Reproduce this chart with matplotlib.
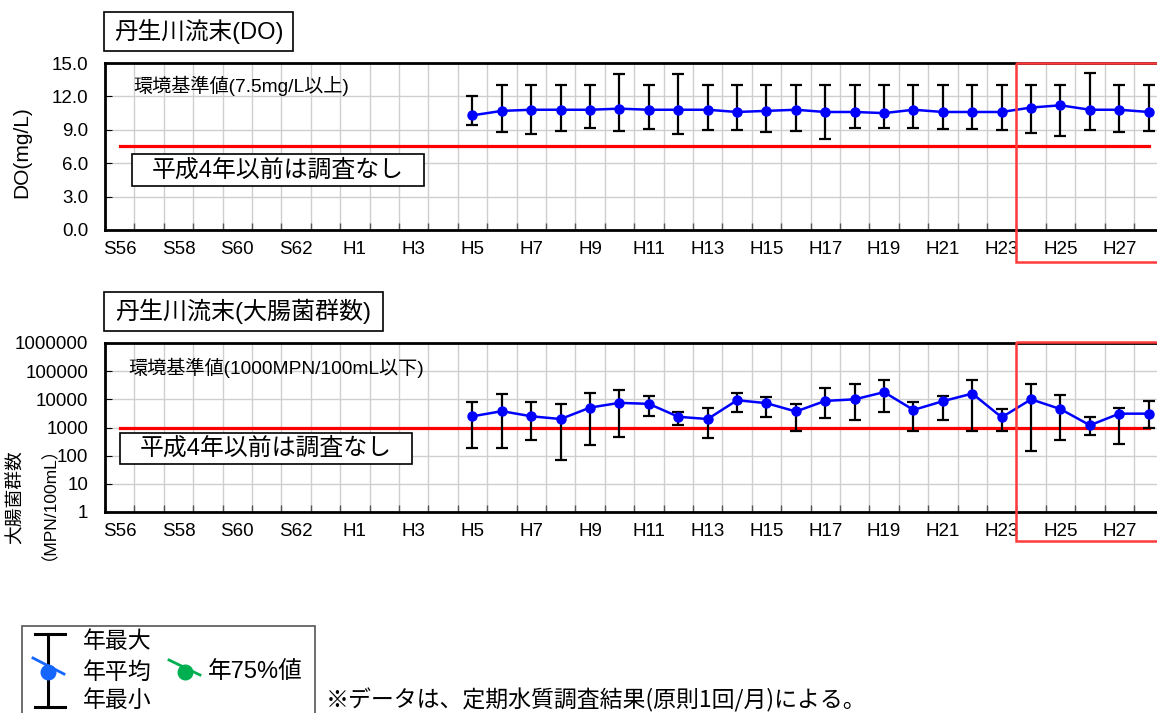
import matplotlib
matplotlib.use("Agg")
import matplotlib.pyplot as plt
from matplotlib.patches import Rectangle
from matplotlib.lines import Line2D
import numpy as np

plt.rcParams['font.family'] = ['Liberation Sans', 'Noto Sans CJK JP']

# ---------------- data ----------------
categories = ['S56', 'S57', 'S58', 'S59', 'S60', 'S61', 'S62', 'S63',
              'H1', 'H2', 'H3', 'H4', 'H5', 'H6', 'H7', 'H8', 'H9', 'H10',
              'H11', 'H12', 'H13', 'H14', 'H15', 'H16', 'H17', 'H18', 'H19',
              'H20', 'H21', 'H22', 'H23', 'H24', 'H25', 'H26', 'H27', 'H28']
data_years = ['H5', 'H6', 'H7', 'H8', 'H9', 'H10', 'H11', 'H12', 'H13', 'H14',
              'H15', 'H16', 'H17', 'H18', 'H19', 'H20', 'H21', 'H22', 'H23',
              'H24', 'H25', 'H26', 'H27', 'H28']

do_mean = [10.3, 10.7, 10.8, 10.8, 10.8, 10.9, 10.8, 10.8, 10.8, 10.6,
           10.7, 10.8, 10.6, 10.6, 10.5, 10.8, 10.6, 10.6, 10.6,
           11.0, 11.2, 10.8, 10.8, 10.6]
do_max = [12.0, 13.0, 13.0, 13.0, 13.0, 14.0, 13.0, 14.0, 13.0, 13.0,
          13.0, 13.0, 13.0, 13.0, 13.0, 13.0, 13.0, 13.0, 13.0,
          13.0, 13.0, 14.1, 13.0, 13.0]
do_min = [9.4, 8.8, 8.6, 8.9, 9.2, 8.9, 9.1, 8.6, 9.0, 9.0,
          8.8, 8.9, 8.2, 9.2, 9.2, 9.2, 9.1, 9.1, 9.0,
          8.7, 8.4, 9.0, 8.8, 8.9]

coli_mean = [2500, 3800, 2500, 2000, 5100, 7500, 6900, 2400, 2000, 9300,
             7300, 3700, 8800, 10000, 18000, 4200, 8600, 16000, 2300,
             10000, 4500, 1200, 3100, 3100]
coli_max = [8000, 15000, 8000, 7000, 17000, 22000, 13000, 3500, 5000, 17000,
            12000, 7000, 26000, 35000, 50000, 8000, 13000, 50000, 4700,
            35000, 14000, 2300, 5000, 8600]
coli_min = [180, 180, 350, 68, 240, 450, 2500, 1200, 410, 3600,
            2300, 780, 2200, 1800, 3500, 780, 1800, 780, 780,
            150, 350, 530, 260, 1000]

do_standard = 7.5
coli_standard = 1000

do_ticks = [0, 3, 6, 9, 12, 15]
coli_ticks = [1, 10, 100, 1000, 10000, 100000, 1000000]

# ---------------- figure ----------------
W, H = 1157, 713
fig = plt.figure(figsize=(W / 100, H / 100), dpi=100)

ncat = len(categories)
cat_w = 29.4
left_px = 105
ax_w = ncat * cat_w / W


def make_axes(top_px, bot_px):
    return fig.add_axes([left_px / W, 1 - bot_px / H, ax_w, (bot_px - top_px) / H])


ax1 = make_axes(63, 230)
ax2 = make_axes(343, 512)

xd = [categories.index(y) for y in data_years]


def style_axes(ax):
    ax.set_xlim(-0.5, ncat - 0.5)
    ax.set_xticks(range(0, ncat, 2))
    ax.set_xticklabels(categories[::2])
    ax.set_xticks(np.arange(-0.5, ncat, 1), minor=True)
    ax.grid(True, which='minor', axis='x', color='#cfcfcf', lw=1)
    ax.grid(True, which='major', axis='y', color='#cfcfcf', lw=1)
    ax.tick_params(axis='x', which='major', length=0, pad=8, labelsize=13.5)
    ax.tick_params(axis='x', which='minor', direction='in', length=5, width=1, color='#555555')
    ax.tick_params(axis='y', which='major', direction='in', length=5, pad=12, labelsize=13.5)
    ax.tick_params(axis='y', which='minor', length=0)
    for s in ax.spines.values():
        s.set_linewidth(2)
        s.set_color('black')
    ax.set_axisbelow(True)


# --- DO chart ---
style_axes(ax1)
ax1.set_ylim(0, 15)
ax1.set_yticks(do_ticks)
ax1.set_yticklabels(['%.1f' % v for v in do_ticks])
ax1.plot([0, ncat - 1], [do_standard, do_standard], color='#ff0000', lw=2.3, zorder=3)
m = np.array(do_mean)
ax1.errorbar(xd, m, yerr=[m - np.array(do_min), np.array(do_max) - m], fmt='none',
             ecolor='black', elinewidth=1.6, capsize=4.5, capthick=1.6, zorder=4)
ax1.plot(xd, do_mean, color='#0000ff', lw=1.8, marker='o', ms=6.5, zorder=5)

# --- coliform chart ---
style_axes(ax2)
ax2.set_yscale('log')
ax2.set_ylim(1, 1000000)
ax2.set_yticks(coli_ticks)
ax2.set_yticklabels([str(v) for v in coli_ticks])
ax2.minorticks_off()
ax2.set_xticks(np.arange(-0.5, ncat, 1), minor=True)
ax2.grid(True, which='minor', axis='x', color='#cfcfcf', lw=1)
ax2.tick_params(axis='x', which='minor', direction='in', length=5, width=1, color='#555555')
ax2.plot([0, ncat - 1], [coli_standard, coli_standard], color='#ff0000', lw=2.3, zorder=3)
c = np.array(coli_mean, dtype=float)
ax2.errorbar(xd, c, yerr=[c - np.array(coli_min), np.array(coli_max) - c], fmt='none',
             ecolor='black', elinewidth=1.6, capsize=4.5, capthick=1.6, zorder=4)
ax2.plot(xd, coli_mean, color='#0000ff', lw=1.8, marker='o', ms=6.5, zorder=5)

# ---------------- overlay (pixel coordinates) ----------------
ov = fig.add_axes([0, 0, 1, 1], zorder=10)
ov.set_xlim(0, W)
ov.set_ylim(H, 0)
ov.axis('off')
ov.patch.set_alpha(0)


def boxed(x0, y0, x1, y1, text, size):
    ov.add_patch(Rectangle((x0, y0), x1 - x0, y1 - y0, facecolor='white',
                           edgecolor='black', lw=1.2))
    ov.text((x0 + x1) / 2, (y0 + y1) / 2, text, ha='center', va='center',
            fontsize=size)


boxed(104, 12, 293, 51, '丹生川流末(DO)', 17)
boxed(104, 292, 383, 331, '丹生川流末(大腸菌群数)', 17.3)
boxed(132, 154, 424, 186, '平成4年以前は調査なし', 17.2)
boxed(120, 433, 412, 464, '平成4年以前は調査なし', 17.2)

ov.text(133, 86, '環境基準値(7.5mg/L以上)', ha='left', va='center', fontsize=13.8)
ov.text(128, 368, '環境基準値(1000MPN/100mL以下)', ha='left', va='center', fontsize=13.8)

# y labels
ov.text(22, 152, 'DO(mg/L)', rotation=90, ha='center', va='center', fontsize=15)
ov.text(16, 497, '大腸菌群数', rotation=90, ha='center', va='center', fontsize=13.5)
ov.text(40, 494, '（MPN/100mL）', rotation=90, ha='center', va='center', fontsize=12.5)

# highlight rectangles for recent years
for (t, b) in [(63, 262), (342, 541)]:
    ov.add_patch(Rectangle((1016, t), 200, b - t, facecolor='none',
                           edgecolor='#ff3b3b', lw=1.8, clip_on=False))

# legend box
ov.add_patch(Rectangle((22, 626), 293, 100, facecolor='white', edgecolor='#555555',
                       lw=1.2, clip_on=False))
ov.add_line(Line2D([48, 48], [634, 707], color='black', lw=2.2))
ov.add_line(Line2D([35, 65], [634, 634], color='black', lw=2.2))
ov.add_line(Line2D([35, 65], [707, 707], color='black', lw=2.2))
ov.add_line(Line2D([33, 64], [658, 674], color='#1466ff', lw=2))
ov.plot([48], [672], marker='o', ms=10.5, color='#1466ff', zorder=5)
ov.add_line(Line2D([169, 200], [660, 675], color='#00b050', lw=2))
ov.plot([185], [672], marker='o', ms=10.5, color='#00b050', zorder=5)
ov.text(83, 642, '年最大', ha='left', va='center', fontsize=16.5)
ov.text(83, 672, '年平均', ha='left', va='center', fontsize=16.5)
ov.text(83, 700, '年最小', ha='left', va='center', fontsize=16.5)
ov.text(208, 672, '年75%値', ha='left', va='center', fontsize=17)

ov.text(326, 700, '※データは、定期水質調査結果(原則1回/月)による。', ha='left',
        va='center', fontsize=16.5, family=['Noto Sans CJK JP'])

fig.savefig('out.png', dpi=100)
